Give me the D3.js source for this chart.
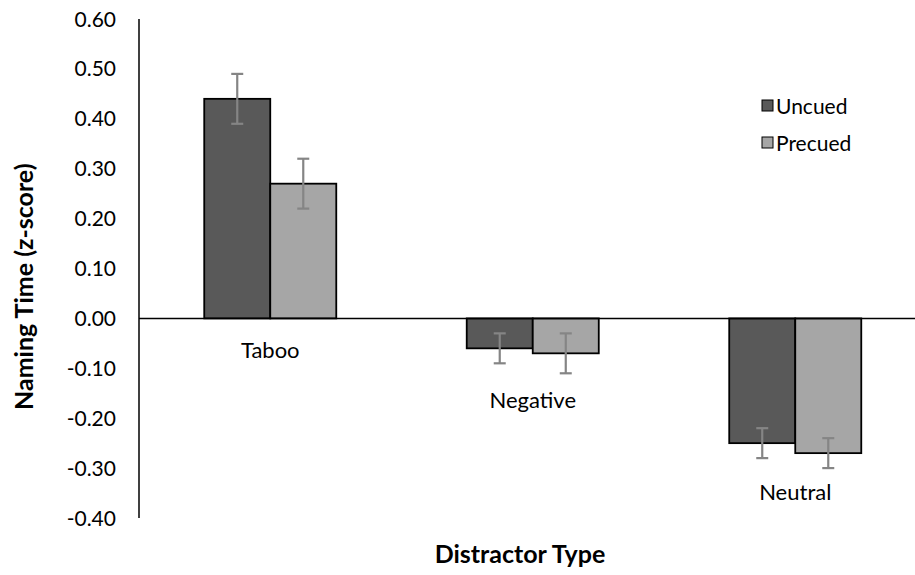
<!DOCTYPE html>
<html>
<head>
<meta charset="utf-8">
<script src="https://cdn.jsdelivr.net/npm/d3@7"></script>
<style>
  body { margin: 0; background: #fff; }
  svg { display: block; font-family: Lato, "Open Sans", sans-serif; }
</style>
</head>
<body>
<div id="chart"></div>
<script>
// data
const categories = ["Taboo", "Negative", "Neutral"];
const series = ["Uncued", "Precued"];
const uncued = [0.44, -0.06, -0.25];
const uncuedErr = [0.05, 0.03, 0.03];
const precued = [0.27, -0.07, -0.27];
const precuedErr = [0.05, 0.04, 0.03];
const yTicks = [-0.4, -0.3, -0.2, -0.1, 0, 0.1, 0.2, 0.3, 0.4, 0.5, 0.6];

const width = 915, height = 575;
const colors = { Uncued: "#595959", Precued: "#a6a6a6" };

const rows = [];
categories.forEach((c, i) => {
  rows.push({ cat: c, s: "Uncued", v: uncued[i], e: uncuedErr[i] });
  rows.push({ cat: c, s: "Precued", v: precued[i], e: precuedErr[i] });
});

const svg = d3.select("#chart").append("svg")
  .attr("width", width)
  .attr("height", height);

const y = d3.scaleLinear().domain([-0.4, 0.6]).range([518, 19]);
const x0 = d3.scaleBand().domain(categories).range([139, 926.5]);
const groupW = x0.bandwidth() * 0.503;
const x1 = d3.scaleBand().domain(series).range([0, groupW]);
const barX = (d) => x0(d.cat) + (x0.bandwidth() - groupW) / 2 + x1(d.s);

const fmt = (v) => d3.format(".2f")(v).replace("\u2212", "-");

// y axis: line and labels only, no tick marks
svg.append("line")
  .attr("x1", 139).attr("x2", 139)
  .attr("y1", y(0.6)).attr("y2", y(-0.4))
  .attr("stroke", "#000").attr("stroke-width", 1.5);

svg.append("g")
  .selectAll("text")
  .data(yTicks)
  .join("text")
  .attr("x", 116)
  .attr("y", (d) => y(d))
  .attr("dy", "0.36em")
  .attr("text-anchor", "end")
  .attr("font-size", 21)
  .attr("fill", "#000")
  .text(fmt);

// bars
svg.append("g")
  .selectAll("rect")
  .data(rows)
  .join("rect")
  .attr("x", barX)
  .attr("width", x1.bandwidth())
  .attr("y", (d) => y(Math.max(0, d.v)))
  .attr("height", (d) => Math.abs(y(d.v) - y(0)))
  .attr("fill", (d) => colors[d.s])
  .attr("stroke", "#000")
  .attr("stroke-width", 1.8);

// zero line
svg.append("line")
  .attr("x1", 139).attr("x2", width)
  .attr("y1", y(0)).attr("y2", y(0))
  .attr("stroke", "#000").attr("stroke-width", 1.5);

// error bars
const eb = svg.append("g")
  .attr("stroke", "#858585")
  .attr("stroke-width", 2.2)
  .selectAll("g")
  .data(rows)
  .join("g")
  .attr("transform", (d) => `translate(${barX(d) + x1.bandwidth() / 2},0)`);
eb.append("line")
  .attr("y1", (d) => y(d.v + d.e)).attr("y2", (d) => y(d.v - d.e));
eb.append("line")
  .attr("x1", -6).attr("x2", 6)
  .attr("y1", (d) => y(d.v + d.e)).attr("y2", (d) => y(d.v + d.e));
eb.append("line")
  .attr("x1", -6).attr("x2", 6)
  .attr("y1", (d) => y(d.v - d.e)).attr("y2", (d) => y(d.v - d.e));

// category labels sit below each group
const labelBase = [358, 408, 500];
svg.append("g")
  .selectAll("text")
  .data(categories)
  .join("text")
  .attr("x", (d) => x0(d) + x0.bandwidth() / 2)
  .attr("y", (d, i) => labelBase[i])
  .attr("text-anchor", "middle")
  .attr("font-size", 22)
  .attr("fill", "#000")
  .text((d) => d);

// legend
const legend = svg.append("g")
  .selectAll("g")
  .data(series)
  .join("g")
  .attr("transform", (d, i) => `translate(762,${106 + i * 37})`);
legend.append("rect")
  .attr("x", 0).attr("y", -6)
  .attr("width", 11).attr("height", 11)
  .attr("fill", (d) => colors[d])
  .attr("stroke", "#000").attr("stroke-width", 1);
legend.append("text")
  .attr("x", 14)
  .attr("dy", "0.36em")
  .attr("font-size", 21)
  .attr("fill", "#000")
  .text((d) => d);

// axis titles
svg.append("text")
  .attr("x", 520).attr("y", 563)
  .attr("text-anchor", "middle")
  .attr("font-size", 25)
  .attr("font-weight", "bold")
  .text("Distractor Type");

svg.append("text")
  .attr("transform", "translate(33,410) rotate(-90)")
  .attr("text-anchor", "start")
  .attr("font-size", 25)
  .attr("font-weight", "bold")
  .text("Naming Time (z-score)");
</script>
</body>
</html>
